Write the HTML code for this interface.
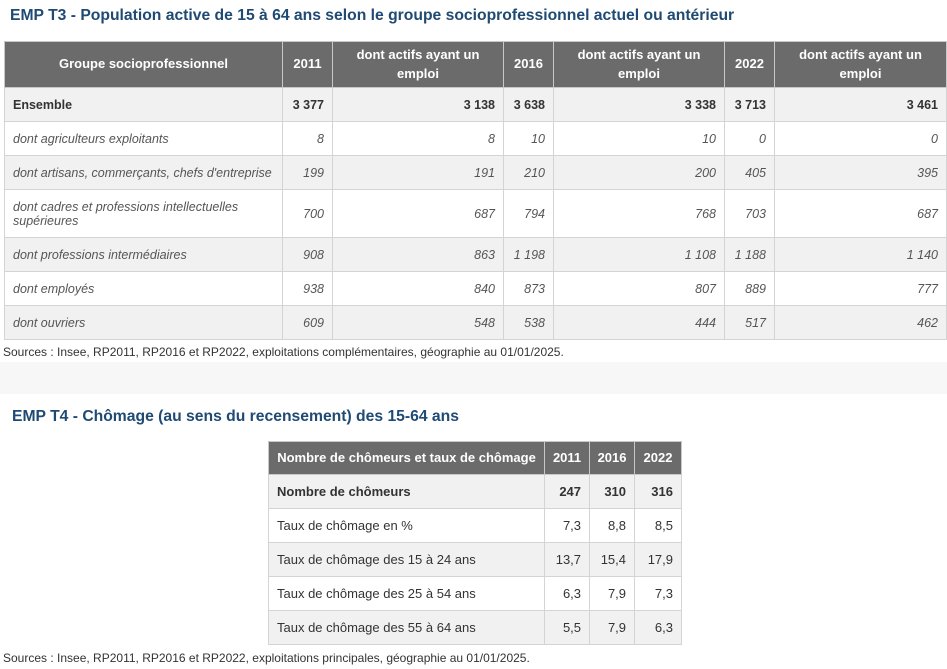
<!DOCTYPE html>
<html><head><meta charset="utf-8"><style>
body{margin:0;width:947px;height:669px;background:#fff;font-family:"Liberation Sans",sans-serif;color:#333;position:relative;overflow:hidden}
.t{position:absolute;font-size:15.7px;color:#1f4a73;font-weight:bold}
table{position:absolute;border-collapse:collapse;font-size:12.5px}
td,th{border:1px solid #d4d4d4;padding:0 8px;text-align:right}
th{background:#6b6b6b;color:#fff;font-weight:bold;text-align:center;border-color:#c8c8c8;line-height:1.4;font-size:13px}
td.l{text-align:left}
tr.g td{background:#f1f1f1}
.i td{font-style:italic;color:#555}
.b td{font-weight:bold}
.src{position:absolute;font-size:12px;color:#333}
.band{position:absolute;left:0;top:362px;width:947px;height:32px;background:#f7f7f7}
</style></head><body>
<div class="t" style="left:10px;top:7px">EMP T3 - Population active de 15 à 64 ans selon le groupe socioprofessionnel actuel ou antérieur</div>
<table style="left:4px;top:41px;width:943px">
<colgroup><col style="width:278px"><col style="width:50px"><col style="width:171px"><col style="width:50px"><col style="width:171px"><col style="width:50px"><col style="width:172px"></colgroup>
<tr style="height:46px"><th>Groupe socioprofessionnel</th><th>2011</th><th>dont actifs ayant un<br>emploi</th><th>2016</th><th>dont actifs ayant un<br>emploi</th><th>2022</th><th>dont actifs ayant un<br>emploi</th></tr>
<tr class="g b" style="height:34px"><td class="l">Ensemble</td><td>3 377</td><td>3 138</td><td>3 638</td><td>3 338</td><td>3 713</td><td>3 461</td></tr>
<tr class="i" style="height:34px"><td class="l">dont agriculteurs exploitants</td><td>8</td><td>8</td><td>10</td><td>10</td><td>0</td><td>0</td></tr>
<tr class="g i" style="height:34px"><td class="l">dont artisans, commerçants, chefs d'entreprise</td><td>199</td><td>191</td><td>210</td><td>200</td><td>405</td><td>395</td></tr>
<tr class="i" style="height:48px"><td class="l">dont cadres et professions intellectuelles supérieures</td><td>700</td><td>687</td><td>794</td><td>768</td><td>703</td><td>687</td></tr>
<tr class="g i" style="height:34px"><td class="l">dont professions intermédiaires</td><td>908</td><td>863</td><td>1 198</td><td>1 108</td><td>1 188</td><td>1 140</td></tr>
<tr class="i" style="height:34px"><td class="l">dont employés</td><td>938</td><td>840</td><td>873</td><td>807</td><td>889</td><td>777</td></tr>
<tr class="g i" style="height:34px"><td class="l">dont ouvriers</td><td>609</td><td>548</td><td>538</td><td>444</td><td>517</td><td>462</td></tr>
</table>
<div class="src" style="left:3px;top:345px">Sources : Insee, RP2011, RP2016 et RP2022, exploitations complémentaires, géographie au 01/01/2025.</div>
<div class="band"></div>
<div class="t" style="left:12px;top:408px">EMP T4 - Chômage (au sens du recensement) des 15-64 ans</div>
<table style="left:268px;top:441px;width:414px;font-size:13px">
<colgroup><col style="width:277px"><col style="width:45px"><col style="width:45px"><col style="width:47px"></colgroup>
<tr style="height:33px"><th style="padding:0 6px">Nombre de chômeurs et taux de chômage</th><th style="padding:0 4px">2011</th><th style="padding:0 4px">2016</th><th style="padding:0 4px">2022</th></tr>
<tr class="g b" style="height:34px"><td class="l">Nombre de chômeurs</td><td>247</td><td>310</td><td>316</td></tr>
<tr style="height:34px"><td class="l">Taux de chômage en %</td><td>7,3</td><td>8,8</td><td>8,5</td></tr>
<tr class="g" style="height:34px"><td class="l">Taux de chômage des 15 à 24 ans</td><td>13,7</td><td>15,4</td><td>17,9</td></tr>
<tr style="height:34px"><td class="l">Taux de chômage des 25 à 54 ans</td><td>6,3</td><td>7,9</td><td>7,3</td></tr>
<tr class="g" style="height:34px"><td class="l">Taux de chômage des 55 à 64 ans</td><td>5,5</td><td>7,9</td><td>6,3</td></tr>
</table>
<div class="src" style="left:3px;top:651px">Sources : Insee, RP2011, RP2016 et RP2022, exploitations principales, géographie au 01/01/2025.</div>
</body></html>
